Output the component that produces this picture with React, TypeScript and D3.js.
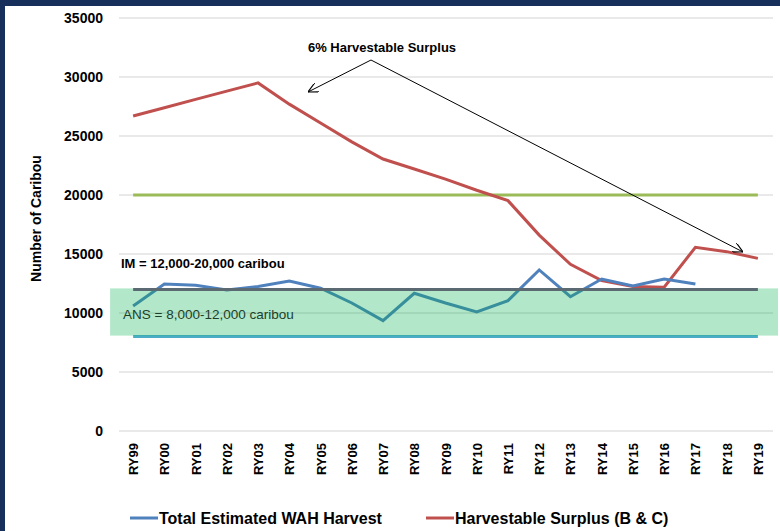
import React, { useEffect, useRef } from "react";
import * as d3 from "d3";

// regulatory years on the x axis
const years = [
  "RY99", "RY00", "RY01", "RY02", "RY03", "RY04", "RY05", "RY06", "RY07", "RY08", "RY09",
  "RY10", "RY11", "RY12", "RY13", "RY14", "RY15", "RY16", "RY17", "RY18", "RY19",
];

// Total Estimated WAH Harvest (ends at RY17)
const harvest = [
  10600, 12450, 12350, 11950, 12250, 12700, 12100, 10850, 9350, 11670, 10850,
  10100, 11050, 13650, 11380, 12880, 12300, 12880, 12460,
];

// Harvestable Surplus (B & C)
const surplus = [
  26700, 27400, 28100, 28800, 29500, 27700, 26100, 24500, 23050, 22200, 21350,
  20400, 19520, 16600, 14120, 12750, 12250, 12180, 15570, 15200, 14630,
];

const yTicks = [0, 5000, 10000, 15000, 20000, 25000, 30000, 35000];
const imRange = [12000, 20000];
const ansRange = [8000, 12000];

const font = "'Liberation Sans', Arial, sans-serif";

export default function App() {
  const svgRef = useRef<SVGSVGElement>(null);
  const width = 780;
  const height = 531;

  useEffect(() => {
    if (!svgRef.current) return;
    const svg = d3.select(svgRef.current);
    svg.selectAll("*").remove();

    const x = d3.scalePoint<string>().domain(years).range([117.5, 773.5]).padding(0.5);
    const y = d3.scaleLinear().domain([0, 35000]).range([431, 18]);
    const first = x(years[0]) as number;
    const last = x(years[years.length - 1]) as number;

    svg.append("rect").attr("width", width).attr("height", height).attr("fill", "#fff");
    // navy frame
    svg.append("rect").attr("x", 0).attr("y", 0).attr("width", width).attr("height", 6).attr("fill", "#17305b");
    svg.append("rect").attr("x", 0).attr("y", 0).attr("width", 5).attr("height", height).attr("fill", "#17305b");

    // gridlines
    svg
      .append("g")
      .selectAll("line")
      .data(yTicks)
      .join("line")
      .attr("x1", 119)
      .attr("x2", 773)
      .attr("y1", (d) => y(d))
      .attr("y2", (d) => y(d))
      .attr("stroke", "#e2e2e2")
      .attr("stroke-width", 1.5);

    // y tick labels
    svg
      .append("g")
      .selectAll("text")
      .data(yTicks)
      .join("text")
      .attr("x", 103)
      .attr("y", (d) => y(d) + 5)
      .attr("text-anchor", "end")
      .style("font-family", font)
      .style("font-size", "14px")
      .style("font-weight", "bold")
      .attr("fill", "#000")
      .text((d) => String(d));

    // y title
    svg
      .append("text")
      .attr("transform", `translate(41, ${(155 + 282) / 2}) rotate(-90)`)
      .attr("text-anchor", "middle")
      .style("font-family", font)
      .style("font-size", "14px")
      .style("font-weight", "bold")
      .text("Number of Caribou");

    // x tick labels
    svg
      .append("g")
      .selectAll("text")
      .data(years)
      .join("text")
      .attr("transform", (d) => `translate(${(x(d) as number) + 5}, 443) rotate(-90)`)
      .attr("text-anchor", "end")
      .style("font-family", font)
      .style("font-size", "13px")
      .style("font-weight", "bold")
      .text((d) => d);

    // reference lines
    const refLine = (v: number, color: string) =>
      svg
        .append("line")
        .attr("x1", first)
        .attr("x2", last)
        .attr("y1", y(v))
        .attr("y2", y(v))
        .attr("stroke", color)
        .attr("stroke-width", 3);

    refLine(imRange[1], "#9bbb59");
    refLine(ansRange[0], "#4bacc6");

    const line = d3
      .line<number>()
      .x((_, i) => x(years[i]) as number)
      .y((d) => y(d));

    svg
      .append("path")
      .datum(surplus)
      .attr("d", line)
      .attr("fill", "none")
      .attr("stroke", "#c0504d")
      .attr("stroke-width", 3);

    svg
      .append("path")
      .datum(harvest)
      .attr("d", line)
      .attr("fill", "none")
      .attr("stroke", "#4f81bd")
      .attr("stroke-width", 3);

    // ANS band (semi-transparent, over the lines)
    svg
      .append("rect")
      .attr("x", first - 23)
      .attr("y", y(ansRange[1]) - 1)
      .attr("width", 778 - (first - 23))
      .attr("height", y(ansRange[0]) - y(ansRange[1]))
      .attr("fill", "rgba(0,176,80,0.3)");

    refLine(imRange[0], "#5b6a72");

    svg
      .append("text")
      .attr("x", 121)
      .attr("y", 268)
      .style("font-family", font)
      .style("font-size", "13px")
      .style("font-weight", "bold")
      .text("IM = 12,000-20,000 caribou");

    svg
      .append("text")
      .attr("x", 123)
      .attr("y", 319)
      .style("font-family", font)
      .style("font-size", "13.5px")
      .attr("fill", "#1c3f2a")
      .text("ANS = 8,000-12,000 caribou");

    // arrows
    const defs = svg.append("defs");
    defs
      .append("marker")
      .attr("id", "openArrow")
      .attr("viewBox", "0 0 10 10")
      .attr("refX", 10)
      .attr("refY", 5)
      .attr("markerWidth", 10)
      .attr("markerHeight", 10)
      .attr("markerUnits", "userSpaceOnUse")
      .attr("orient", "auto")
      .append("path")
      .attr("d", "M0,0 L10,5 L0,10")
      .attr("fill", "none")
      .attr("stroke", "#000")
      .attr("stroke-width", 1.2);

    const apex = [371, 60];
    [
      [308, 92],
      [743, 252],
    ].forEach(([tx, ty]) => {
      svg
        .append("line")
        .attr("x1", apex[0])
        .attr("y1", apex[1])
        .attr("x2", tx)
        .attr("y2", ty)
        .attr("stroke", "#000")
        .attr("stroke-width", 1)
        .attr("marker-end", "url(#openArrow)");
    });

    svg
      .append("text")
      .attr("x", 382)
      .attr("y", 52)
      .attr("text-anchor", "middle")
      .style("font-family", font)
      .style("font-size", "13px")
      .style("font-weight", "bold")
      .text("6% Harvestable Surplus");

    // legend
    const legendItems = [
      { label: "Total Estimated WAH Harvest", color: "#4f81bd", x: 130 },
      { label: "Harvestable Surplus (B & C)", color: "#c0504d", x: 426 },
    ];
    legendItems.forEach((item) => {
      svg
        .append("line")
        .attr("x1", item.x)
        .attr("x2", item.x + 28)
        .attr("y1", 518)
        .attr("y2", 518)
        .attr("stroke", item.color)
        .attr("stroke-width", 3);
      svg
        .append("text")
        .attr("x", item.x + 29)
        .attr("y", 524)
        .style("font-family", font)
        .style("font-size", "16px")
        .style("font-weight", "bold")
        .text(item.label);
    });
  }, []);

  return (
    <div style={{ position: "fixed", left: 0, top: 0, width, height }}>
      <svg ref={svgRef} width={width} height={height} style={{ display: "block" }} />
    </div>
  );
}
